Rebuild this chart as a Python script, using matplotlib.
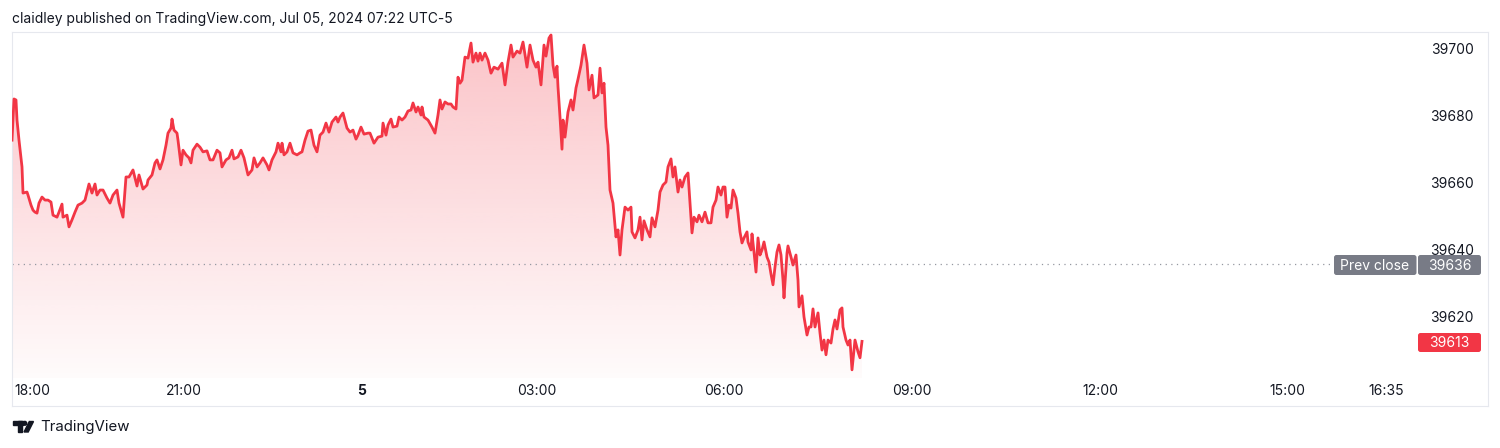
import numpy as np
import matplotlib
matplotlib.use('Agg')
import matplotlib.pyplot as plt
import matplotlib.transforms as mtransforms
from matplotlib.patches import FancyBboxPatch, Rectangle, Polygon, Circle

plt.rcParams['font.family'] = ['Inter', 'DejaVu Sans']

# bar index (1 bar ~ 1 min of session time) and price
bar_idx = [0, 2, 4, 5, 7, 10, 11, 15, 16, 19, 21, 23, 25, 27, 30, 33, 36, 39, 41, 45,
           47, 50, 51, 55, 57, 60, 63, 66, 70, 73, 75, 77, 80, 83, 85, 88, 91, 95, 98, 101,
           105, 107, 111, 114, 117, 121, 125, 127, 131, 135, 136, 140, 143, 145, 148, 151, 154, 156, 159, 160,
           162, 165, 166, 169, 171, 174, 177,
           179, 181, 185, 188, 191, 195, 198, 201, 205, 208, 210, 214, 217, 220, 222, 226, 229, 232, 236, 240,
           242, 245, 248, 251, 255, 257, 260, 264, 266, 269, 270, 272, 275, 278, 281, 285, 288, 290, 293, 296,
           299, 302, 305, 308, 311, 314, 317, 320, 324, 326, 328, 331, 335, 338, 341, 344, 346, 349, 352, 356,
           358, 362, 366, 370, 371, 374, 376, 379, 381, 385, 387, 390, 393, 396, 399, 401, 404, 406, 409, 410,
           412, 416, 420, 423, 426, 428, 430, 433, 436, 439, 441, 444, 446, 448, 450, 453, 456, 459, 461, 464,
           466, 468, 470, 473, 476, 479, 482, 486, 490, 493, 496, 499, 501, 505, 508, 511, 515, 518, 521, 524,
           526, 529, 532, 534, 537,
           539, 541, 543, 545, 546, 548, 550, 551, 553, 556, 559, 561, 564, 566, 569, 572, 575, 577, 580, 582,
           586, 588, 590, 592, 594, 596, 598, 601, 604, 606, 608, 610, 613, 616, 619, 620, 623, 626, 628, 630,
           632, 635, 638, 640, 643, 646, 648, 651, 654, 656, 659, 661, 663, 666, 668, 670, 673, 676, 678, 680,
           682, 685, 687, 690, 693, 696, 699, 701, 704, 706, 709, 711,
           713, 715, 717, 719, 721, 724, 726, 728, 730, 732, 735, 736, 739, 740, 742, 744, 746, 748, 750, 752,
           755, 757, 759, 761, 763, 765, 767, 769, 771, 772, 775, 776, 779, 781, 784, 786, 787, 790, 792, 795,
           797, 799, 801, 803, 806, 808, 810, 812, 814, 816, 819, 821, 823, 825, 828, 830, 831, 834, 836, 838,
           840, 843, 846, 848, 850]
price = [39673.1, 39685.4, 39685.1, 39679.1, 39673.1, 39665.1, 39657.3, 39657.6, 39656.7, 39653.7,
         39652.2, 39651.6, 39651.3, 39654.3, 39656.1, 39655.2, 39655.2, 39654.6, 39650.7, 39650.1,
         39651.6, 39654.0, 39650.1, 39650.7, 39647.2, 39649.3, 39651.6, 39653.7, 39654.3, 39655.2,
         39657.6, 39660.0, 39657.3, 39660.0, 39656.7, 39658.2, 39658.2, 39655.8, 39654.3, 39656.7,
         39658.2, 39654.3, 39650.1, 39662.1, 39662.1, 39664.2, 39659.4, 39662.7, 39658.5, 39659.7,
         39661.2, 39662.7, 39666.3, 39667.2, 39664.5, 39667.2, 39671.6, 39675.2, 39676.7, 39679.4,
         39676.1, 39675.2, 39673.1, 39665.7, 39670.1, 39668.7, 39667.8,
         39666.3, 39670.1, 39671.9, 39671.0, 39669.6, 39669.9, 39667.2, 39667.2, 39670.1, 39669.3,
         39665.1, 39667.2, 39667.8, 39670.1, 39667.5, 39668.1, 39670.1, 39667.8, 39662.7, 39664.2,
         39667.8, 39665.1, 39666.3, 39667.8, 39665.7, 39664.2, 39667.2, 39669.6, 39672.2, 39669.6,
         39672.2, 39668.7, 39669.6, 39672.2, 39669.3, 39668.7, 39669.3, 39669.6, 39673.1, 39675.8,
         39676.1, 39671.6, 39669.6, 39674.6, 39675.5, 39678.2, 39675.5, 39678.5, 39680.0, 39678.5,
         39680.0, 39681.2, 39676.7, 39675.5, 39676.1, 39673.4, 39674.6, 39677.0, 39674.9, 39675.2,
         39675.2, 39672.2, 39674.0, 39674.3, 39678.2, 39674.6, 39677.6, 39679.4, 39677.0, 39677.3,
         39680.0, 39679.1, 39680.0, 39681.8, 39682.1, 39684.2, 39681.5, 39683.0, 39680.6, 39683.0,
         39680.0, 39679.1, 39677.0, 39675.2, 39680.6, 39685.1, 39682.4, 39684.5, 39683.9, 39683.9,
         39683.0, 39682.4, 39691.9, 39690.1, 39691.0, 39697.9, 39697.6, 39702.1, 39696.4, 39699.1,
         39696.7, 39699.1, 39697.0, 39699.1, 39697.0, 39693.1, 39694.9, 39694.3, 39696.1, 39689.6,
         39696.4, 39701.5, 39697.9, 39699.7, 39699.1, 39702.4, 39694.9, 39701.5, 39697.0, 39694.9,
         39696.4, 39689.6, 39701.5, 39698.2, 39703.6,
         39704.5, 39695.5, 39691.9, 39695.2, 39689.0, 39680.0, 39670.4, 39679.1, 39674.0, 39681.5,
         39685.1, 39682.1, 39688.7, 39691.3, 39695.5, 39701.5, 39696.1, 39688.1, 39692.5, 39685.7,
         39686.6, 39694.6, 39687.2, 39690.1, 39677.0, 39671.6, 39658.2, 39654.3, 39644.2, 39646.3,
         39638.8, 39646.3, 39653.1, 39652.2, 39653.1, 39645.7, 39643.9, 39646.3, 39650.1, 39643.3,
         39649.0, 39646.3, 39644.2, 39649.9, 39647.2, 39652.2, 39657.6, 39659.7, 39660.6, 39665.1,
         39667.5, 39662.1, 39665.1, 39657.6, 39661.2, 39659.1, 39662.1, 39663.3, 39654.3, 39645.4,
         39650.1, 39648.7, 39650.7, 39648.7, 39651.6, 39648.4, 39648.4, 39653.1, 39655.2, 39659.1,
         39656.7, 39659.1,
         39659.1, 39650.1, 39653.7, 39652.8, 39658.2, 39655.8, 39651.3, 39645.7, 39642.4, 39643.9,
         39645.7, 39642.7, 39640.3, 39645.1, 39639.7, 39633.7, 39643.9, 39638.8, 39640.3, 39642.7,
         39638.2, 39636.7, 39633.1, 39629.9, 39635.2, 39639.7, 39641.8, 39638.8, 39631.3, 39626.0,
         39639.4, 39641.5, 39638.2, 39635.8, 39638.8, 39631.3, 39623.3, 39626.6, 39620.3, 39614.9,
         39617.3, 39617.3, 39622.7, 39617.3, 39621.5, 39615.5, 39610.4, 39613.4, 39609.0, 39613.4,
         39612.5, 39616.7, 39619.4, 39616.7, 39622.4, 39623.0, 39617.3, 39613.4, 39611.9, 39613.4,
         39604.5, 39613.4, 39609.9, 39608.1, 39613.0]

tick_bars = [20, 172, 350, 525, 712, 900, 1088, 1275, 1374]
tick_labels = ['18:00', '21:00', '5', '03:00', '06:00', '09:00', '12:00', '15:00', '16:35']
price_ticks = [39620, 39640, 39660, 39680, 39700]
prev_close = 39636
last_price = price[-1]

RED = '#f23645'
GRAY = '#787b86'
TXT = '#131722'

W, H = 1500, 448
fig = plt.figure(figsize=(W / 100, H / 100), dpi=100)
fig.patch.set_facecolor('white')
# pixel transform, origin top-left
PX = mtransforms.Affine2D().scale(1 / 100, -1 / 100).translate(0, H / 100) + fig.dpi_scale_trans

ax = fig.add_axes([12 / W, (H - 406) / H, 1476 / W, 374 / H])
ax.set_xticks([])
ax.set_yticks([])
for s in ax.spines.values():
    s.set_color('#e6e8ee')
    s.set_linewidth(0.8)

y_lo, y_hi = 39593.7, 39705.4
fill_floor = 39602.0

# gradient area under the line
poly = ax.fill_between(bar_idx, price, fill_floor, color='none', lw=0)
alpha = np.linspace(0.30, 0.02, 256)
grad = np.zeros((256, 1, 4))
grad[:, 0, :3] = matplotlib.colors.to_rgb(RED)
grad[:, 0, 3] = alpha
im = ax.imshow(grad, extent=[0, bar_idx[-1], fill_floor, y_hi], aspect='auto',
               origin='upper', zorder=1, interpolation='bilinear')
im.set_clip_path(poly.get_paths()[0], transform=ax.transData)

ax.plot(bar_idx, price, color=RED, lw=2.0, zorder=3, solid_joinstyle='round')

ax.set_xlim(0, 1476)
ax.set_ylim(y_lo, y_hi)

# prev close dotted line
ax.axhline(prev_close, xmin=0, xmax=0.896, color='#9598a1', lw=0.9, ls=(0, (1, 3.5)), zorder=2)

# price scale labels
ytrans = mtransforms.blended_transform_factory(ax.transAxes, ax.transData)
for p in price_ticks:
    ax.text(0.9905, p, str(p), transform=ytrans, ha='right', va='center',
            fontsize=10, color=TXT, zorder=4)

# time labels
xtrans = mtransforms.blended_transform_factory(ax.transData, ax.transAxes)
for b, lab in zip(tick_bars, tick_labels):
    ax.text(b, 0.04, lab, transform=xtrans, ha='center', va='center', fontsize=10,
            color=TXT, fontweight='bold' if lab == '5' else 'normal')

# label boxes
def box(x0, y0, x1, y1, color):
    p = FancyBboxPatch((x0, y0), x1 - x0, y1 - y0, boxstyle='round,pad=0,rounding_size=2.5',
                       transform=PX, facecolor=color, edgecolor='none', zorder=10)
    fig.patches.append(p)

box(1334, 255, 1416.5, 275, GRAY)
box(1418, 255, 1481, 275, GRAY)
box(1418, 333, 1481, 352, RED)
fig.text(1375, 265.5, 'Prev close', transform=PX, ha='center', va='center', fontsize=10,
         color='white', zorder=11)
fig.text(1449.5, 265.5, str(prev_close), transform=PX, ha='center', va='center', fontsize=10,
         color='white', zorder=11)
fig.text(1449.5, 343, '%d' % round(last_price), transform=PX, ha='center', va='center', fontsize=10,
         color='white', zorder=11)

# header
fig.text(12, 18.5, 'claidley published on TradingView.com, Jul 05, 2024 07:22 UTC-5', transform=PX,
         ha='left', va='center', fontsize=10, color=TXT)

# footer logo + name
logo_col = '#131722'
fig.patches.append(Rectangle((12.5, 421.5), 10, 3.5, transform=PX, color=logo_col))
fig.patches.append(Rectangle((17.5, 421.5), 4, 10.5, transform=PX, color=logo_col))
fig.patches.append(Circle((24.8, 423.3), 1.9, transform=PX, color=logo_col))
fig.patches.append(Polygon([(24.0, 432), (28.2, 432), (33.5, 421.5), (29.3, 421.5)], closed=True,
                           transform=PX, color=logo_col))
fig.text(40, 427, 'TradingView', transform=PX, ha='left', va='center', fontsize=10.8, color=TXT)

fig.savefig('out.png', dpi=100, facecolor='white')
